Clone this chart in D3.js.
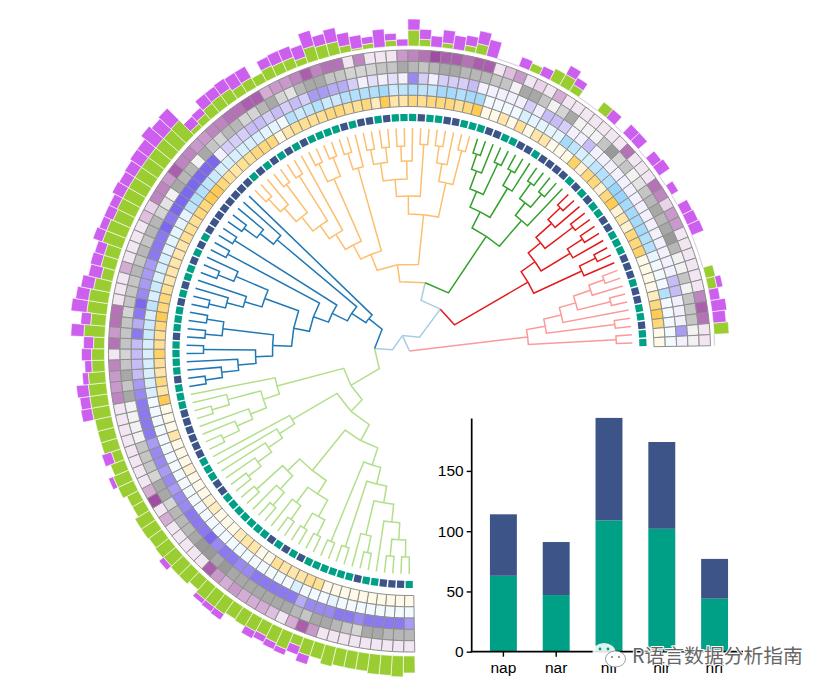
<!DOCTYPE html>
<html>
<head>
<meta charset="utf-8">
<script src="https://cdn.jsdelivr.net/npm/d3@7"></script>
<style>
html,body{margin:0;padding:0;background:#fff}
svg{display:block}
text{font-family:"Liberation Sans",Arial,sans-serif}
</style>
</head>
<body>
<svg id="chart" width="830" height="693"></svg>
<script>
// ---------- data ----------
const L = "leaf";
// tree clades: [node radius, child, child]
const cladeLightGreen = [68,[84,[102,[120,[137,[154,[172,[189,[206,L,L],[206,L,L]],L],[189,[206,L,L],L]],[206,L,L]],[206,L,L]],[154,[170,[189,[206,L,L],[206,L,L]],[189,[206,L,L],L]],[171,[189,[206,L,L],L],[206,L,L]]]],[136,[154,[171,[188,[204,L,L],L],L],L],L]],[137,[154,[171,[188,[206,L,L],L],L],[188,[206,L,L],L]],L]];
const cladeBlue = [52,[69,[86,[102,[118,[137,[154,[172,[189,[206,L,L],L],L],[206,L,L]],[188,[205,L,L],[205,L,L]]],[154,[172,[189,[206,L,L],L],L],[189,[206,L,L],L]]],[206,L,L]],[207,L,L]],[173,[190,[206,L,L],L],L]],L];
const cladeOrange = [87,[104,[120,[138,[154,[172,[190,[207,L,L],L],[207,L,L]],[207,L,L]],L],[188,[208,L,L],[208,L,L]]],[190,[207,L,L],L]],[137,[155,[172,[190,[205,L,L],[205,L,L]],[190,[205,L,L],L]],[207,L,L]],[172,[190,[207,L,L],L],[207,L,L]]]];
const cladeGreen = [138,[156,[173,[192,[208,L,L],L],[207,L,L]],[190,[207,L,L],L]],[172,[188,[207,L,L],[205,L,L]],L]];
const cladeRed = [137,[154,[170,[191,[208,L,L],L],[205,L,L]],[188,[206,L,L],L]],[190,[208,L,L],L]];
const cladePink = [119,[138,[156,[173,[191,[207,L,L],L],[207,L,L]],L],[207,L,L]],[207,L,L]];
const treeTop = [0,[17,[35,cladeLightGreen,cladeBlue],[52,[70,cladeOrange,cladeGreen],cladeRed]],cladePink];
const tipRadius = 223;

// leaf annotation ring: 1 teal, 0 navy
const dots = [
1,0,0,0,1,1,0,1,1,1, 1,1,1,0,1,0,1,0,1,1, 1,1,1,1,1,0,0,1,1,1, 0,0,0,0,0,0,1,1,1,0,
1,1,1,1,0,1,1,1,0,1, 0,1,1,0,1,0,1,0,0,0, 0,0,0,0,0,1,0,1,0,1, 0,1,0,1,1,1,1,0,1,0,
0,1,0,1,1,1,0,1,1,0, 0,1,1,1,0,0,1,1,0,0, 1,0,0,0,0,1,0,1,0,1, 1,0,0,1,1,1,0,0,0,1,
0,0,1,1,0,1,1];

const ringYellow = [
1,1,1,1,1,1,1,1,1,1, 5,5,4,4,4,5,1,1,4,4, 3,1,1,1,3,2,1,1,1,2, 1,1,1,4,1,1,1,8,4,6,
4,5,7,5,5,6,8,6,6,5, 4,4,4,4,4,5,5,5,6,6, 8,8,6,5,4,5,5,6,6,6, 1,4,5,5,5,5,6,6,5,5,
6,3,8,4,4,6,5,6,6,6, 5,6,8,1,1,4,1,5,1,4, 4,1,1,1,7,2,6,6,2,6, 8,2,4,2,6,6,7,1,1,1,
1,3,6,8,6,1,1];
const ringBlue = [
1,1,1,1,1,1,1,1,2,1, 1,1,3,1,1,1,1,1,1,1, 1,1,1,1,1,1,1,1,1,1, 1,1,1,1,1,1,1,1,3,3,
3,3,3,3,4,4,3,5,3,4, 3,3,3,2,2,2,2,2,5,6, 6,5,4,3,3,3,3,3,3,2, 2,1,6,4,5,6,4,4,6,6,
6,6,7,4,5,6,5,5,7,7, 6,7,7,1,1,1,1,3,2,2, 2,2,7,5,3,3,5,6,6,8, 8,7,7,7,7,6,6,2,1,1,
1,6,1,1,1,1,1];
const ringPurple = [
6,8,8,8,8,7,8,8,7,7, 7,5,8,8,8,8,8,7,7,8, 8,7,9,8,8,8,7,7,6,7, 6,7,7,6,8,8,8,8,7,6,
4,4,4,4,8,5,8,9,7,6, 6,6,8,8,8,9,8,9,9,9, 9,9,9,9,1,3,3,3,4,4, 3,4,3,4,3,6,6,5,5,3,
1,2,1,2,1,7,3,1,3,3, 3,4,1,1,1,1,1,3,1,4, 4,3,1,1,4,1,1,1,1,1, 1,1,1,1,1,1,1,1,1,1,
4,4,1,1,1,6,1];
const ringGray = [
5,5,5,6,6,3,4,5,6,6, 4,5,6,6,6,6,6,6,6,7, 6,7,7,6,5,5,5,3,6,6, 3,4,4,4,1,1,1,1,6,4,
6,4,3,4,4,4,3,4,4,4, 5,4,5,4,5,5,3,2,1,6, 5,5,1,6,4,3,5,5,3,3, 5,6,3,2,5,6,6,4,4,3,
3,3,4,4,6,5,4,5,6,6, 5,5,5,4,4,1,6,6,4,1, 3,6,1,1,1,4,7,3,4,1, 2,4,5,6,5,6,7,5,1,1,
4,1,4,4,4,1,1];
const ringMauve = [
1,1,1,1,1,1,1,1,1,5, 8,4,1,3,4,4,4,5,4,5, 8,1,1,1,1,1,4,1,9,4, 1,1,1,1,1,1,1,1,6,5,
5,6,1,7,5,7,7,1,1,1, 4,1,1,1,1,3,2,6,6,5, 8,6,6,5,5,6,6,7,7,8, 8,4,5,5,6,8,6,7,7,1,
6,1,1,1,5,6,7,9,8,8, 7,8,8,1,3,5,1,2,1,4, 1,1,1,1,1,1,1,7,1,1, 1,7,6,2,5,5,1,1,1,1,
1,1,6,8,7,1,1];

const barGreen = [
17,21,20,20,18,18,18,20,16,16, 10,18,16,14,15,16,15,17,17,17, 14,17,17,16,17,16,17,17,13,13,
17,17,15,10,17,17,17,18,18,18, 17,13,13,11,21,15,20,20,17,12, 15,15,21,21,19,20,20,20,20,20,
20,20,20,21,5,8,12,13,13,10, 11,10,12,11,11,7,15,13,13,7, 2,5,0,6,0,16,7,0,5,0,
6,10,0,0,0,0,8,0,13,13, 8,0,0,11,0,0,0,0,0,0, 0,0,0,0,0,0,0,0,0,0,
10,9,0,0,0,15,0];
const barPurple = [
0,0,0,0,0,0,0,0,0,9, 9,6,7,7,8,0,0,7,6,5, 0,0,0,6,0,0,0,0,0,0,
0,5,0,10,0,0,0,11,10,12, 6,7,10,10,13,10,16,13,13,13, 11,10,10,8,10,9,12,11,12,14,
14,19,16,17,10,8,12,11,12,14, 13,0,10,12,12,13,16,11,14,13, 13,7,18,7,7,11,10,11,13,14,
10,13,17,0,0,10,0,10,0,10, 8,0,0,0,11,0,12,12,0,11, 13,0,8,0,11,12,13,0,0,0,
0,6,10,15,13,0,0];

// inset bars
const genes = ["nap","nar","nif","nir","nrf"];
const tealCounts = [63,47,109,102,44];
const navyCounts = [51,44,85,72,33];
const yTicks = [0,50,100,150];

// ---------- styles ----------
const colLightBlue="#A6CEE3", colBlue="#1F78B4", colLightGreen="#B2DF8A", colGreen="#33A02C",
      colPink="#FB9A99", colRed="#E31A1C", colOrange="#FDBF6F";
const teal="#00A087", navy="#3C5488";
const cx=409.5, cy=351;
const svg=d3.select("#chart");
const g=svg.append("g").attr("transform",`translate(${cx},${cy})`);
const n=dots.length;
const rad=d3.scaleLinear().domain([0,n]).range([-181*Math.PI/180,89*Math.PI/180]);
const deg=a=>a*180/Math.PI;

// ---------- tree ----------
const cladeOf=new Map([[cladeLightGreen,colLightGreen],[cladeBlue,colBlue],[cladeOrange,colOrange],[cladeGreen,colGreen],[cladeRed,colRed],[cladePink,colPink]]);
const toNode=(a,col)=>{
  if(a===L) return {r:tipRadius,color:col};
  const c=cladeOf.get(a)||col;
  return {r:a[0],color:c,children:a.slice(1).map(k=>toNode(k,c))};
};
const root=d3.hierarchy(toNode(treeTop,colLightBlue));
root.leaves().forEach((d,i)=>{d.a=rad(i+.5)});
root.eachAfter(d=>{ if(d.children) d.a=d3.mean(d.children,k=>k.a); });
const rTree=d3.scaleLinear().domain([0,tipRadius]).range([0,tipRadius]);
const line=d3.lineRadial().angle(p=>p[0]).radius(p=>rTree(p[1]));
g.append("g").selectAll("path").data(root.links()).join("path")
  .attr("d",l=>line([[l.source.a,l.source.data.r],[l.target.a,l.source.data.r],[l.target.a,l.target.data.r]]))
  .attr("fill","none").attr("stroke",l=>l.target.data.color).attr("stroke-width",1.5).attr("stroke-linejoin","miter");

// ---------- dots ----------
g.append("g").selectAll("rect").data(dots).join("rect")
  .attr("x",-3.6).attr("y",-3.6).attr("width",7.2).attr("height",7.2)
  .attr("fill",d=>d?teal:navy)
  .attr("transform",(d,i)=>`rotate(${deg(rad(i+.5))}) translate(0,${-233.5})`);

// ---------- heat rings ----------
const rings=[
 {vals:ringYellow,scale:d3.scaleLinear().domain([1,8]).range(["#FFF9E8","#FFCB50"]).clamp(true)},
 {vals:ringBlue,scale:d3.scaleLinear().domain([1,8]).range(["#F2FAFF","#98D5FC"]).clamp(true)},
 {vals:ringPurple,scale:d3.scaleLinear().domain([1,9]).range(["#F3F0FD","#7B68EE"]).clamp(true)},
 {vals:ringGray,scale:d3.scaleLinear().domain([1,8]).range(["#F2F2F2","#8A8A8A"]).clamp(true)},
 {vals:ringMauve,scale:d3.scaleLinear().domain([1,9]).range(["#F2E6F2","#A14BA3"]).clamp(true)}
];
const ringR=d3.scaleLinear().domain([0,5]).range([244.5,301]);
const arc=d3.arc();
rings.forEach((ring,k)=>{
  g.append("g").selectAll("path").data(ring.vals).join("path")
   .attr("d",(v,i)=>arc({innerRadius:ringR(k),outerRadius:ringR(k+1),startAngle:rad(i),endAngle:rad(i+1)}))
   .attr("fill",v=>ring.scale(v)).attr("stroke","#8f8f8f").attr("stroke-width",1);
});

// ---------- outer stacked bars ----------
const barR=d3.scaleLinear().domain([0,40]).range([305,345]);
const barData=barGreen.map((v,i)=>({i,green:v,purple:barPurple[i]}));
const barG=g.append("g");
barG.selectAll("path.base").data(barData.filter(d=>d.green===0&&d.purple===0)).join("path").attr("class","base")
  .attr("d",d=>arc({innerRadius:barR(0),outerRadius:barR(0),startAngle:rad(d.i),endAngle:rad(d.i+1)}))
  .attr("fill","none").attr("stroke","#DCCBE0").attr("stroke-width",.8);
barG.selectAll("path.gr").data(barData.filter(d=>d.green>0)).join("path").attr("class","gr")
  .attr("d",d=>arc({innerRadius:barR(0),outerRadius:barR(d.green),startAngle:rad(d.i),endAngle:rad(d.i+1)}))
  .attr("fill","#9ACD32").attr("stroke","#fff").attr("stroke-width",.6);
barG.selectAll("path.pu").data(barData.filter(d=>d.purple>0)).join("path").attr("class","pu")
  .attr("d",d=>arc({innerRadius:barR(d.green),outerRadius:barR(d.green+d.purple),startAngle:rad(d.i),endAngle:rad(d.i+1)}))
  .attr("fill","#CC5FEE").attr("stroke","#fff").attr("stroke-width",.6);

// ---------- inset bar chart ----------
const x=d3.scaleBand().domain(genes).range([477,741]).paddingInner(.49).paddingOuter(.245);
const y=d3.scaleLinear().domain([0,193.5]).range([651.7,418.5]);
const inset=svg.append("g");
inset.selectAll("rect.t").data(genes).join("rect").attr("class","t")
  .attr("x",d=>x(d)).attr("width",x.bandwidth())
  .attr("y",(d,i)=>y(tealCounts[i])).attr("height",(d,i)=>y(0)-y(tealCounts[i])).attr("fill",teal);
inset.selectAll("rect.n").data(genes).join("rect").attr("class","n")
  .attr("x",d=>x(d)).attr("width",x.bandwidth())
  .attr("y",(d,i)=>y(tealCounts[i]+navyCounts[i])).attr("height",(d,i)=>y(tealCounts[i])-y(tealCounts[i]+navyCounts[i])).attr("fill",navy);
const ax=inset.append("g").attr("transform","translate(471.7,0)").call(d3.axisLeft(y).tickValues(yTicks).tickSize(5).tickPadding(3));
const bx=inset.append("g").attr("transform","translate(0,651.7)").call(d3.axisBottom(x).tickSize(5).tickPadding(5));
[ax,bx].forEach(s=>{
  s.selectAll("path").attr("stroke","#000").attr("stroke-width",1.7);
  s.selectAll("line").attr("stroke","#000").attr("stroke-width",1.4);
  s.selectAll("text").attr("fill","#000").style("font-size","15.5px").style("font-family",'"Liberation Sans",Arial,sans-serif');
});
bx.select("path").attr("d","M470.8,0H743");
ax.select("path").attr("d",`M0,${y.range()[1]}V${y.range()[0]}`);

// ---------- watermark ----------
const wm=svg.append("g");
wm.append("ellipse").attr("cx",604).attr("cy",652.5).attr("rx",11.5).attr("ry",9.5).attr("fill","#fff").attr("fill-opacity",.88);
wm.append("circle").attr("cx",600).attr("cy",649).attr("r",1.4).attr("fill",teal);
wm.append("circle").attr("cx",608).attr("cy",649).attr("r",1.4).attr("fill",teal);
wm.append("ellipse").attr("cx",615.5).attr("cy",659).attr("rx",10).attr("ry",8).attr("fill","#fff").attr("stroke","#777").attr("stroke-width",.7);
wm.append("circle").attr("cx",612).attr("cy",657).attr("r",1).attr("fill","#777");
wm.append("circle").attr("cx",619).attr("cy",657).attr("r",1).attr("fill","#777");
wm.append("text").attr("x",632).attr("y",663).text("R语言数据分析指南")
  .style("font-family",'"Noto Sans CJK SC",sans-serif').style("font-size","19.8px")
  .attr("fill","#666").attr("stroke","#fff").attr("stroke-width",2).attr("paint-order","stroke");
</script>
</body>
</html>
